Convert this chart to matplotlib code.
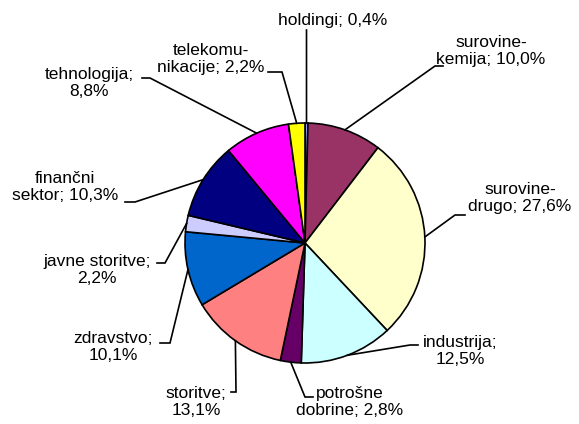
import numpy as np
import matplotlib
matplotlib.use("Agg")
import matplotlib.pyplot as plt

# data (Excel order, clockwise from 12 o'clock)
labels = ["holdingi; 0,4%", "surovine-\nkemija; 10,0%", "surovine-\ndrugo; 27,6%",
          "industrija;\n12,5%", "potrošne\ndobrine; 2,8%", "storitve;\n13,1%",
          "zdravstvo;\n10,1%", "javne storitve;\n2,2%", "finančni\nsektor; 10,3%",
          "tehnologija;\n8,8%", "telekomu-\nnikacije; 2,2%"]
shares = [0.4, 10.0, 27.6, 12.5, 2.8, 13.1, 10.1, 2.2, 10.3, 8.8, 2.2]
colors = ["#9999FF", "#993366", "#FFFFCC", "#CCFFFF", "#660066", "#FF8080",
          "#0066CC", "#CCCCFF", "#000080", "#FF00FF", "#FFFF00"]

# label layout in pixel coords (x, y from top): text centre, elbow, end of leader
text_pos = [(333, 20), (491, 51), (520, 198), (460, 351), (350, 402), (196, 402),
            (113, 347), (97, 270), (65, 187), (89, 83), (211, 59)]
elbows = [(306.5, 30), (435, 66), (455, 215), (410, 345), (305, 397), (236, 392),
          (170, 343), (165, 263), (135, 202), (150, 78), (282, 72)]
ends = [(306.5, 30), (443, 66), (465, 215), (418, 345), (313, 397), (231, 392),
        (160, 343), (157, 263), (125, 202), (142, 78), (268, 72)]

W, H = 579, 424
cx, cy, r = 305, H - 243, 120

fig = plt.figure(figsize=(W / 100, H / 100), dpi=100)
ax = fig.add_axes([0, 0, 1, 1])

wedges, _ = ax.pie(shares, colors=colors, startangle=90, counterclock=False,
                   center=(cx, cy), radius=r,
                   wedgeprops=dict(edgecolor="black", linewidth=1.2))
ax.set_xlim(0, W)
ax.set_ylim(0, H)
ax.set_aspect("equal")
ax.axis("off")

for w, lab, tp, el, en in zip(wedges, labels, text_pos, elbows, ends):
    th = np.deg2rad((w.theta1 + w.theta2) / 2)
    x0, y0 = cx + r * np.cos(th), cy + r * np.sin(th)
    ax.plot([x0, el[0], en[0]], [y0, H - el[1], H - en[1]], color="black", lw=1.2,
            solid_joinstyle="miter")
    ax.text(tp[0], H - tp[1], lab, ha="center", va="center", multialignment="center",
            fontsize=12.5, family="Liberation Sans", linespacing=1.12)

fig.savefig("out.png", dpi=100)
